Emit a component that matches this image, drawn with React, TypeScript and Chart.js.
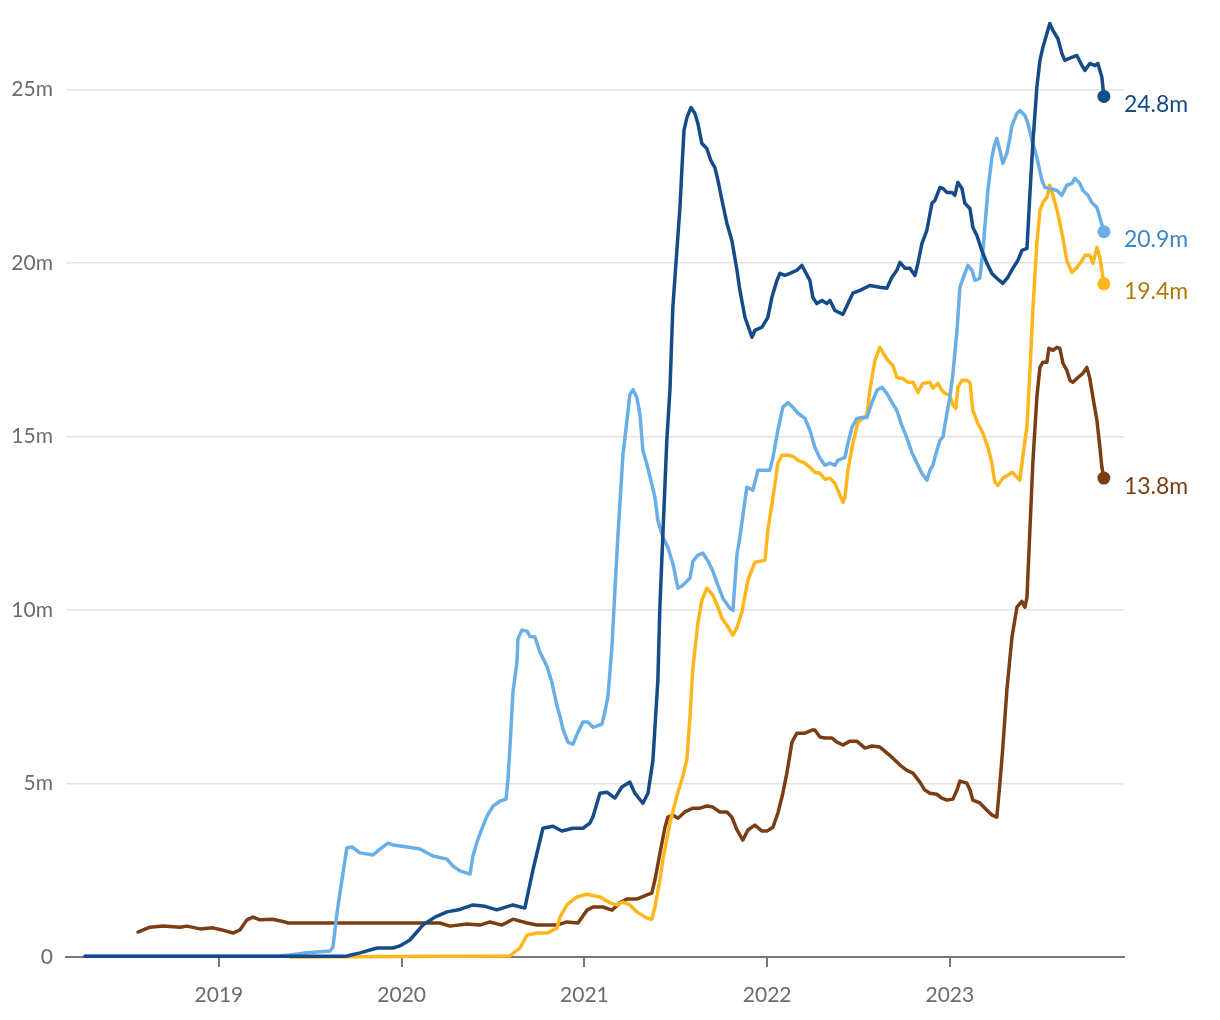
import React, { useEffect, useRef } from "react";
import { Chart, registerables } from "chart.js";

Chart.register(...registerables);

const yearTicks = [2019, 2020, 2021, 2022, 2023];
const valueTicks = [0, 5, 10, 15, 20, 25];

const seriesNames = ["Series 1", "Series 2", "Series 3", "Series 4"];
const lineColors = ["#154c87", "#6aaee6", "#fdb71c", "#7b3e14"];
const labelColors = ["#154c87", "#3a86c8", "#b07a05", "#7b3e14"];

const navySeries: [number, number][] = [[2018.267,0.02],[2018.896,0.02],[2019.690,0.02],[2019.700,0.03],[2019.772,0.12],[2019.865,0.26],[2019.952,0.26],[2019.990,0.32],[2020.045,0.49],[2020.116,0.92],[2020.182,1.15],[2020.248,1.30],[2020.319,1.37],[2020.390,1.50],[2020.456,1.46],[2020.521,1.36],[2020.609,1.50],[2020.674,1.41],[2020.718,2.50],[2020.773,3.71],[2020.828,3.77],[2020.877,3.63],[2020.937,3.71],[2020.992,3.71],[2021.030,3.86],[2021.046,4.03],[2021.085,4.72],[2021.123,4.75],[2021.167,4.58],[2021.205,4.90],[2021.249,5.04],[2021.276,4.72],[2021.320,4.43],[2021.348,4.72],[2021.375,5.67],[2021.402,7.97],[2021.413,10.08],[2021.435,12.87],[2021.451,14.89],[2021.468,16.33],[2021.484,18.72],[2021.506,20.36],[2021.523,21.60],[2021.534,22.75],[2021.545,23.82],[2021.561,24.19],[2021.583,24.48],[2021.605,24.31],[2021.621,24.02],[2021.643,23.44],[2021.670,23.30],[2021.692,22.95],[2021.714,22.75],[2021.731,22.38],[2021.753,21.80],[2021.780,21.14],[2021.807,20.65],[2021.835,19.79],[2021.851,19.21],[2021.879,18.43],[2021.917,17.86],[2021.933,18.06],[2021.972,18.15],[2022.004,18.43],[2022.026,19.01],[2022.054,19.50],[2022.070,19.70],[2022.097,19.64],[2022.125,19.70],[2022.163,19.79],[2022.190,19.93],[2022.234,19.50],[2022.250,19.01],[2022.272,18.83],[2022.300,18.92],[2022.327,18.83],[2022.344,18.92],[2022.371,18.63],[2022.415,18.52],[2022.469,19.13],[2022.508,19.21],[2022.562,19.35],[2022.617,19.30],[2022.655,19.27],[2022.683,19.59],[2022.710,19.79],[2022.727,20.02],[2022.754,19.85],[2022.781,19.85],[2022.809,19.64],[2022.825,19.99],[2022.847,20.56],[2022.874,20.94],[2022.902,21.72],[2022.918,21.80],[2022.946,22.18],[2022.962,22.15],[2022.984,22.03],[2023.011,22.03],[2023.027,21.95],[2023.044,22.32],[2023.066,22.15],[2023.082,21.72],[2023.110,21.57],[2023.126,21.02],[2023.148,20.79],[2023.175,20.36],[2023.203,19.99],[2023.230,19.70],[2023.257,19.56],[2023.290,19.41],[2023.318,19.59],[2023.345,19.85],[2023.372,20.07],[2023.394,20.36],[2023.422,20.42],[2023.438,21.98],[2023.454,23.44],[2023.476,25.06],[2023.493,25.84],[2023.509,26.21],[2023.531,26.61],[2023.547,26.90],[2023.564,26.70],[2023.591,26.47],[2023.613,26.04],[2023.629,25.84],[2023.657,25.90],[2023.695,25.98],[2023.723,25.69],[2023.739,25.55],[2023.766,25.75],[2023.794,25.69],[2023.810,25.75],[2023.832,25.35],[2023.843,24.8]];

const skySeries: [number, number][] = [[2018.267,0.02],[2019.334,0.03],[2019.389,0.06],[2019.482,0.12],[2019.608,0.17],[2019.624,0.29],[2019.646,1.27],[2019.662,1.84],[2019.700,3.14],[2019.728,3.17],[2019.772,3.00],[2019.843,2.94],[2019.881,3.11],[2019.925,3.28],[2019.952,3.23],[2020.029,3.17],[2020.100,3.11],[2020.171,2.91],[2020.248,2.82],[2020.281,2.62],[2020.319,2.48],[2020.374,2.39],[2020.390,2.91],[2020.412,3.31],[2020.439,3.69],[2020.467,4.06],[2020.500,4.35],[2020.538,4.49],[2020.571,4.55],[2020.582,5.13],[2020.593,6.08],[2020.609,7.64],[2020.631,8.50],[2020.636,9.16],[2020.658,9.42],[2020.686,9.39],[2020.702,9.24],[2020.729,9.22],[2020.757,8.78],[2020.795,8.38],[2020.822,7.92],[2020.850,7.23],[2020.866,6.94],[2020.883,6.56],[2020.910,6.19],[2020.937,6.13],[2020.965,6.48],[2020.992,6.77],[2021.019,6.77],[2021.047,6.62],[2021.096,6.71],[2021.112,7.06],[2021.129,7.52],[2021.151,8.96],[2021.167,10.57],[2021.183,12.09],[2021.211,14.48],[2021.233,15.46],[2021.249,16.21],[2021.266,16.35],[2021.287,16.12],[2021.304,15.63],[2021.320,14.60],[2021.342,14.20],[2021.369,13.62],[2021.386,13.25],[2021.402,12.58],[2021.430,12.09],[2021.457,11.80],[2021.485,11.32],[2021.512,10.63],[2021.534,10.69],[2021.561,10.83],[2021.578,10.92],[2021.594,11.41],[2021.621,11.58],[2021.649,11.64],[2021.676,11.41],[2021.703,11.12],[2021.731,10.71],[2021.758,10.34],[2021.796,10.05],[2021.813,9.99],[2021.835,11.6],[2021.851,12.1],[2021.889,13.54],[2021.922,13.45],[2021.950,14.03],[2021.988,14.03],[2022.015,14.03],[2022.032,14.40],[2022.059,15.18],[2022.086,15.84],[2022.114,15.98],[2022.141,15.84],[2022.169,15.67],[2022.207,15.52],[2022.234,15.18],[2022.261,14.69],[2022.289,14.37],[2022.316,14.17],[2022.344,14.23],[2022.371,14.17],[2022.387,14.31],[2022.426,14.40],[2022.442,14.80],[2022.464,15.26],[2022.491,15.52],[2022.519,15.55],[2022.546,15.55],[2022.574,15.98],[2022.601,16.33],[2022.628,16.42],[2022.655,16.24],[2022.683,15.98],[2022.710,15.75],[2022.737,15.32],[2022.765,14.95],[2022.792,14.54],[2022.820,14.23],[2022.847,13.94],[2022.874,13.74],[2022.891,14.03],[2022.907,14.17],[2022.929,14.60],[2022.946,14.89],[2022.962,14.98],[2022.984,15.67],[2023.000,16.13],[2023.017,16.82],[2023.039,18.06],[2023.055,19.30],[2023.082,19.70],[2023.099,19.93],[2023.121,19.79],[2023.137,19.50],[2023.164,19.56],[2023.181,20.36],[2023.208,22.09],[2023.230,23.04],[2023.246,23.44],[2023.257,23.59],[2023.274,23.24],[2023.290,22.87],[2023.312,23.16],[2023.329,23.62],[2023.340,23.96],[2023.367,24.31],[2023.383,24.39],[2023.411,24.25],[2023.427,24.02],[2023.454,23.44],[2023.476,23.04],[2023.504,22.38],[2023.520,22.18],[2023.547,22.15],[2023.586,22.09],[2023.613,21.95],[2023.640,22.24],[2023.668,22.29],[2023.684,22.44],[2023.712,22.29],[2023.728,22.09],[2023.756,21.95],[2023.777,21.74],[2023.805,21.60],[2023.821,21.31],[2023.843,20.9]];

const goldSeries: [number, number][] = [[2019.389,0.0],[2019.717,0.01],[2020.592,0.03],[2020.647,0.26],[2020.686,0.63],[2020.740,0.69],[2020.795,0.69],[2020.850,0.83],[2020.866,1.15],[2020.904,1.50],[2020.959,1.73],[2021.014,1.81],[2021.085,1.73],[2021.140,1.56],[2021.178,1.50],[2021.211,1.58],[2021.249,1.50],[2021.287,1.30],[2021.342,1.12],[2021.369,1.09],[2021.386,1.44],[2021.413,2.22],[2021.430,2.82],[2021.468,3.86],[2021.506,4.64],[2021.539,5.21],[2021.561,5.70],[2021.578,6.94],[2021.594,8.35],[2021.621,9.62],[2021.643,10.28],[2021.670,10.63],[2021.703,10.43],[2021.731,10.08],[2021.753,9.76],[2021.780,9.56],[2021.813,9.27],[2021.835,9.50],[2021.862,9.94],[2021.895,10.86],[2021.933,11.38],[2021.988,11.43],[2022.004,12.30],[2022.032,13.25],[2022.059,14.23],[2022.081,14.46],[2022.114,14.46],[2022.141,14.43],[2022.169,14.31],[2022.207,14.23],[2022.234,14.11],[2022.261,13.97],[2022.289,13.94],[2022.316,13.77],[2022.344,13.80],[2022.371,13.65],[2022.387,13.45],[2022.415,13.10],[2022.426,13.25],[2022.442,14.03],[2022.469,14.80],[2022.497,15.41],[2022.524,15.52],[2022.546,15.61],[2022.562,16.33],[2022.590,17.19],[2022.617,17.57],[2022.633,17.42],[2022.661,17.19],[2022.688,17.05],[2022.710,16.70],[2022.743,16.67],[2022.770,16.56],[2022.798,16.56],[2022.825,16.27],[2022.852,16.53],[2022.891,16.56],[2022.907,16.39],[2022.935,16.53],[2022.956,16.33],[2022.973,16.24],[2023.000,16.19],[2023.017,15.90],[2023.033,15.81],[2023.044,16.42],[2023.066,16.62],[2023.093,16.62],[2023.110,16.56],[2023.126,15.75],[2023.153,15.38],[2023.181,15.09],[2023.208,14.69],[2023.230,14.23],[2023.246,13.68],[2023.263,13.59],[2023.290,13.80],[2023.318,13.88],[2023.340,13.97],[2023.367,13.83],[2023.383,13.74],[2023.400,14.45],[2023.422,15.30],[2023.438,16.86],[2023.454,18.63],[2023.476,20.56],[2023.493,21.51],[2023.509,21.74],[2023.531,21.89],[2023.547,22.24],[2023.564,21.95],[2023.591,21.43],[2023.618,20.74],[2023.640,20.07],[2023.668,19.73],[2023.695,19.87],[2023.723,20.07],[2023.739,20.22],[2023.766,20.22],[2023.783,19.99],[2023.805,20.45],[2023.821,20.16],[2023.843,19.4]];

const brownSeries: [number, number][] = [[2018.557,0.72],[2018.623,0.86],[2018.694,0.89],[2018.787,0.86],[2018.825,0.89],[2018.896,0.81],[2018.967,0.84],[2019.016,0.78],[2019.077,0.69],[2019.115,0.78],[2019.153,1.07],[2019.186,1.15],[2019.224,1.07],[2019.295,1.09],[2019.361,1.01],[2019.378,0.98],[2020.209,0.98],[2020.264,0.89],[2020.357,0.95],[2020.428,0.92],[2020.483,1.01],[2020.549,0.92],[2020.609,1.09],[2020.686,0.98],[2020.740,0.92],[2020.850,0.92],[2020.904,1.01],[2020.965,0.98],[2021.014,1.35],[2021.047,1.44],[2021.101,1.44],[2021.151,1.35],[2021.194,1.56],[2021.233,1.67],[2021.287,1.67],[2021.342,1.79],[2021.369,1.84],[2021.386,2.22],[2021.413,2.98],[2021.441,3.74],[2021.457,4.03],[2021.484,4.09],[2021.512,4.00],[2021.550,4.18],[2021.594,4.29],[2021.632,4.29],[2021.670,4.35],[2021.703,4.32],[2021.741,4.18],[2021.780,4.18],[2021.807,4.03],[2021.835,3.66],[2021.867,3.37],[2021.895,3.66],[2021.933,3.80],[2021.972,3.63],[2021.999,3.63],[2022.032,3.74],[2022.059,4.15],[2022.086,4.72],[2022.108,5.30],[2022.136,6.19],[2022.163,6.45],[2022.207,6.45],[2022.245,6.54],[2022.261,6.54],[2022.289,6.34],[2022.316,6.31],[2022.355,6.31],[2022.382,6.19],[2022.415,6.11],[2022.453,6.22],[2022.491,6.22],[2022.535,6.02],[2022.574,6.08],[2022.617,6.05],[2022.655,5.88],[2022.688,5.73],[2022.727,5.53],[2022.765,5.38],[2022.798,5.30],[2022.836,5.04],[2022.863,4.81],[2022.891,4.72],[2022.929,4.69],[2022.956,4.58],[2022.984,4.52],[2023.017,4.55],[2023.039,4.81],[2023.055,5.07],[2023.093,5.01],[2023.110,4.81],[2023.126,4.52],[2023.164,4.44],[2023.203,4.23],[2023.230,4.09],[2023.257,4.03],[2023.274,5.01],[2023.290,6.05],[2023.312,7.69],[2023.340,9.22],[2023.367,10.08],[2023.394,10.25],[2023.411,10.08],[2023.422,10.37],[2023.438,12.30],[2023.454,14.23],[2023.476,16.13],[2023.493,16.99],[2023.509,17.14],[2023.531,17.14],[2023.542,17.54],[2023.564,17.48],[2023.586,17.57],[2023.602,17.54],[2023.619,17.11],[2023.640,16.91],[2023.657,16.62],[2023.673,16.56],[2023.701,16.70],[2023.728,16.82],[2023.750,16.99],[2023.766,16.67],[2023.783,16.13],[2023.805,15.46],[2023.821,14.69],[2023.832,14.11],[2023.843,13.8]];

const allSeries = [navySeries, skySeries, goldSeries, brownSeries];

const FONT = "Lato, 'Source Sans Pro', 'Noto Sans', sans-serif";

const endLabelPlugin = {
  id: "endLabels",
  afterDatasetsDraw(chart: any) {
    const ctx = chart.ctx;
    chart.data.datasets.forEach((ds: any, i: number) => {
      const meta = chart.getDatasetMeta(i);
      const pt = meta.data[meta.data.length - 1];
      const last = ds.data[ds.data.length - 1];
      ctx.save();
      ctx.fillStyle = labelColors[i];
      ctx.font = `23px ${FONT}`;
      ctx.textAlign = "left";
      ctx.textBaseline = "middle";
      ctx.fillText(`${last.y.toFixed(1)}m`, pt.x + 20, pt.y + 8);
      ctx.restore();
    });
  },
};

export default function App() {
  const canvasRef = useRef<HTMLCanvasElement | null>(null);

  useEffect(() => {
    const canvas = canvasRef.current;
    if (!canvas) return;
    const datasets = allSeries.map((series, i) => ({
      label: seriesNames[i],
      data: series.map(([x, y]) => ({ x, y })),
      borderColor: lineColors[i],
      backgroundColor: lineColors[i],
      borderWidth: 3.5,
      borderJoinStyle: "round" as const,
      borderCapStyle: "round" as const,
      tension: 0,
      pointRadius: (c: any) => (c.dataIndex === series.length - 1 ? 6.5 : 0),
      pointHoverRadius: 0,
      pointBorderWidth: 0,
      pointBackgroundColor: lineColors[i],
      fill: false,
      clip: false as any,
    }));

    const chart = new Chart(canvas, {
      type: "line",
      data: { datasets },
      plugins: [endLabelPlugin],
      options: {
        animation: false,
        responsive: false,
        events: [],
        layout: { padding: { top: 0, right: 88, left: 0, bottom: 0 } },
        plugins: { legend: { display: false }, tooltip: { enabled: false } },
        scales: {
          x: {
            type: "linear",
            min: 2018.163,
            max: 2023.953,
            afterBuildTicks: (s: any) => {
              s.ticks = yearTicks.map((v) => ({ value: v }));
            },
            afterFit: (s: any) => {
              s.height = 55;
            },
            grid: {
              display: true,
              drawOnChartArea: false,
              drawTicks: true,
              tickLength: 10,
              color: "#777777",
              lineWidth: 2,
            },
            border: { display: true, color: "#777777", width: 2 },
            ticks: {
              padding: 16,
              color: "#6b6b6b",
              font: { family: FONT, size: 21 },
              callback: (v: any) => String(v),
              maxRotation: 0,
              autoSkip: false,
            },
          },
          y: {
            type: "linear",
            min: 0,
            max: 26.61,
            afterBuildTicks: (s: any) => {
              s.ticks = valueTicks.map((v) => ({ value: v }));
            },
            afterFit: (s: any) => {
              s.width = 58;
            },
            grid: {
              display: true,
              drawTicks: false,
              color: (c: any) => (c.tick && c.tick.value === 0 ? "rgba(0,0,0,0)" : "#e2e2e2"),
              lineWidth: 1.5,
            },
            border: { display: false },
            ticks: {
              padding: 13,
              color: "#6b6b6b",
              font: { family: FONT, size: 21 },
              callback: (v: any) => (v === 0 ? "0" : `${v}m`),
            },
          },
        },
      },
    });
    return () => chart.destroy();
  }, []);

  return (
    <div style={{ width: 1204, height: 1004, background: "#fff" }}>
      <canvas ref={canvasRef} width={1204} height={1004} style={{ display: "block" }} />
    </div>
  );
}
